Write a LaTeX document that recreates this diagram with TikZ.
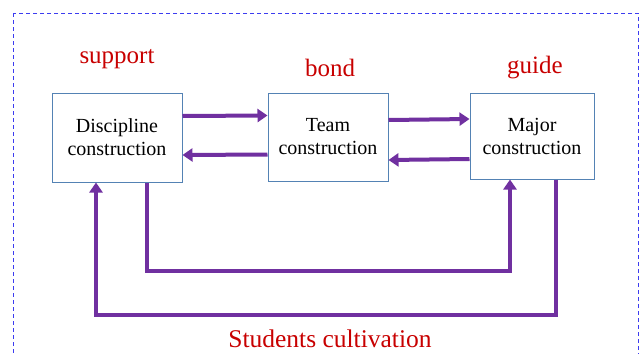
\documentclass[tikz,border=0pt]{standalone}
\usepackage{fontspec}
\setmainfont{Liberation Serif}
\usetikzlibrary{arrows.meta}
\definecolor{arrowpurple}{RGB}{112,48,160}
\definecolor{boxblue}{RGB}{84,130,180}
\definecolor{labelred}{RGB}{200,0,0}
\definecolor{frameblue}{RGB}{60,60,240}
\tikzstyle{part}=[draw=boxblue, line width=1pt, align=center, inner sep=0, font=\fontsize{20}{23}\selectfont]
\tikzstyle{role}=[text=labelred, inner sep=0, font=\fontsize{25}{28}\selectfont]
\tikzstyle{flow}=[draw=arrowpurple, line width=4pt, -{Triangle[length=10pt,width=13pt]}]
\tikzstyle{frame}=[draw=frameblue, line width=1pt, dash pattern=on 4pt off 3pt]

\begin{document}
\begin{tikzpicture}[x=1pt, y=-1pt]
\clip (0,0) rectangle (641,354);
\draw[frame] (13,13) rectangle (638,380);
\node at (117,137.5)[part, minimum width=130pt, minimum height=89pt](disc){Discipline\\construction};
\node at (328,137)[part, minimum width=120pt, minimum height=88pt](team){Team\\construction};
\node at (532,136)[part, minimum width=124pt, minimum height=86pt](major){Major\\construction};
\node at (117,59)[role](lsupport){support};
\node at (330,68)[role](lbond){bond};
\node at (535,68)[role](lguide){guide};
\node at (330,339)[role, font=\fontsize{25.5}{28}\selectfont](lcult){Students cultivation};
\draw[flow] ([yshift=21.5pt]disc.east)--([yshift=21.5pt]team.west);
\draw[flow] ([yshift=-17.5pt]team.west)--([yshift=-17.5pt]disc.east);
\draw[flow] ([yshift=17pt]team.east)--([yshift=17pt]major.west);
\draw[flow] ([yshift=-23pt]major.west)--([yshift=-23pt]team.east);
\draw[flow] ([xshift=30pt]disc.south)--++(0,88)-|([xshift=-22pt]major.south);
\draw[flow] ([xshift=24pt]major.south)--++(0,135)-|([xshift=-21pt]disc.south);
\end{tikzpicture}
\end{document}
